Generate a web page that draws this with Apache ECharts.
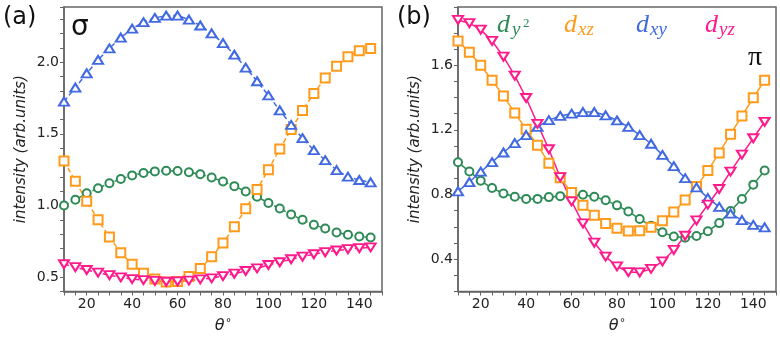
<!DOCTYPE html>
<html>
<head>
<meta charset="utf-8">
<script src="https://cdn.jsdelivr.net/npm/echarts@6/dist/echarts.min.js"></script>
<style>
  html, body { margin: 0; padding: 0; background: #fff; }
  #main { width: 780px; height: 339px; }
</style>
</head>
<body>
<div id="main"></div>
<script>
// angles (deg)
var theta = [10, 15, 20, 25, 30, 35, 40, 45, 50, 55, 60, 65, 70, 75, 80, 85, 90, 95, 100, 105, 110, 115, 120, 125, 130, 135, 140, 145];

// panel (a) sigma
var sigmaY2 = [1.00, 1.04, 1.085, 1.12, 1.155, 1.185, 1.21, 1.227, 1.238, 1.242, 1.241, 1.232, 1.218, 1.195, 1.168, 1.135, 1.098, 1.061, 1.018, 0.979, 0.938, 0.90, 0.865, 0.839, 0.812, 0.796, 0.784, 0.777];
var sigmaXZ = [1.31, 1.17, 1.03, 0.90, 0.78, 0.67, 0.59, 0.527, 0.487, 0.466, 0.47, 0.505, 0.56, 0.642, 0.738, 0.851, 0.977, 1.112, 1.25, 1.395, 1.53, 1.663, 1.782, 1.89, 1.972, 2.038, 2.08, 2.096];
var sigmaXY = [1.725, 1.823, 1.922, 2.016, 2.096, 2.172, 2.234, 2.279, 2.309, 2.325, 2.325, 2.297, 2.256, 2.201, 2.133, 2.052, 1.962, 1.867, 1.768, 1.664, 1.562, 1.47, 1.386, 1.316, 1.247, 1.201, 1.178, 1.162];
var sigmaYZ = [0.59, 0.57, 0.55, 0.532, 0.514, 0.499, 0.487, 0.48, 0.474, 0.468, 0.47, 0.476, 0.485, 0.492, 0.508, 0.524, 0.543, 0.562, 0.585, 0.604, 0.625, 0.643, 0.66, 0.674, 0.686, 0.695, 0.702, 0.708];

// panel (b) pi
var piY2 = [1.0, 0.942, 0.885, 0.84, 0.806, 0.786, 0.773, 0.773, 0.784, 0.79, 0.794, 0.798, 0.786, 0.764, 0.733, 0.695, 0.648, 0.606, 0.566, 0.54, 0.532, 0.543, 0.573, 0.623, 0.698, 0.772, 0.861, 0.948];
var piXZ = [1.75, 1.68, 1.60, 1.507, 1.41, 1.305, 1.203, 1.105, 0.994, 0.903, 0.812, 0.733, 0.672, 0.621, 0.591, 0.575, 0.576, 0.597, 0.638, 0.692, 0.766, 0.849, 0.948, 1.057, 1.173, 1.286, 1.398, 1.507];
var piXY = [0.82, 0.877, 0.941, 1.0, 1.06, 1.118, 1.168, 1.219, 1.26, 1.286, 1.30, 1.31, 1.31, 1.29, 1.258, 1.219, 1.168, 1.114, 1.045, 0.975, 0.901, 0.844, 0.778, 0.723, 0.682, 0.642, 0.612, 0.597];
var piYZ = [1.88, 1.86, 1.82, 1.75, 1.653, 1.535, 1.397, 1.237, 1.08, 0.907, 0.758, 0.621, 0.502, 0.416, 0.356, 0.32, 0.318, 0.34, 0.386, 0.457, 0.545, 0.64, 0.738, 0.834, 0.942, 1.047, 1.148, 1.25];

var GREEN = '#2e8b57', ORANGE = '#ff9a1a', BLUE = '#4169e1', PINK = '#ff1a8c';
var FRAME = '#666';

function pairs(ys) {
  return theta.map(function (t, i) { return [t, ys[i]]; });
}

function line(data, color, symbol, size, rot, dashed, idx) {
  return {
    type: 'line',
    xAxisIndex: idx, yAxisIndex: idx,
    data: pairs(data),
    symbol: symbol,
    symbolSize: size,
    symbolRotate: rot,
    showAllSymbol: true,
    animation: false,
    lineStyle: { color: color, width: 1.5, type: dashed ? [5, 3] : 'solid' },
    itemStyle: { color: color, borderColor: color, borderWidth: 1.2 }
  };
}

function xAx(idx) {
  return {
    type: 'value', gridIndex: idx, min: 10, max: 150, interval: 5,
    splitLine: { show: false },
    axisLine: { lineStyle: { color: FRAME, width: 1.5 } },
    axisTick: { length: 4, lineStyle: { color: FRAME } },
    axisLabel: {
      color: '#222', fontSize: 14, fontFamily: 'DejaVu Sans', margin: 6,
      formatter: function (v) { return v % 20 === 0 ? String(v) : ''; }
    },
    name: '{i|θ}{s|°}', nameLocation: 'middle', nameGap: 26,
    nameTextStyle: {
      rich: {
        i: { fontSize: 16, fontStyle: 'italic', fontFamily: 'DejaVu Sans', color: '#222' },
        s: { fontSize: 11, fontFamily: 'DejaVu Sans', color: '#222', padding: [0, 0, 6, 1] }
      }
    }
  };
}

function yAx(idx, min, max, every) {
  return {
    type: 'value', gridIndex: idx, min: min, max: max, interval: 0.1,
    splitLine: { show: false },
    axisLine: { show: true, lineStyle: { color: FRAME, width: 1.5 } },
    axisTick: { show: true, length: 4, lineStyle: { color: FRAME } },
    axisLabel: {
      color: '#222', fontSize: 14, fontFamily: 'DejaVu Sans', margin: 5,
      formatter: function (v) {
        var k = Math.round(v * 10);
        if (Math.abs(v * 10 - k) > 1e-6) return '';
        return k % every === 0 ? (k / 10).toFixed(1) : '';
      }
    },
    name: 'intensity (arb.units)', nameLocation: 'middle', nameGap: 35,
    nameTextStyle: { fontSize: 15, fontStyle: 'italic', fontFamily: 'DejaVu Sans', color: '#222' }
  };
}

function txt(x, y, s, size, color, family, style) {
  return {
    type: 'text', left: x, top: y,
    style: { text: s, fontSize: size, fill: color, fontFamily: family || 'DejaVu Sans', fontStyle: style || 'normal' }
  };
}

var serif = 'Liberation Serif';

var myechart = echarts.init(document.getElementById('main'));
myechart.setOption({
  backgroundColor: '#fff',
  animation: false,
  grid: [
    { left: 64, right: 398, top: 7, bottom: 43, show: true, borderColor: FRAME, borderWidth: 1.5 },
    { left: 458, right: 4, top: 7, bottom: 43, show: true, borderColor: FRAME, borderWidth: 1.5 }
  ],
  xAxis: [xAx(0), xAx(1)],
  yAxis: [yAx(0, 0.4, 2.385, 5), yAx(1, 0.2, 1.96, 4)],
  series: [
    line(sigmaY2, GREEN, 'emptyCircle', 8, 0, true, 0),
    line(sigmaXZ, ORANGE, 'emptyRect', 9, 0, true, 0),
    line(sigmaXY, BLUE, 'emptyTriangle', [10, 8], 0, true, 0),
    line(sigmaYZ, PINK, 'emptyTriangle', [10, 8], 180, true, 0),
    line(piY2, GREEN, 'emptyCircle', 8, 0, false, 1),
    line(piXZ, ORANGE, 'emptyRect', 9, 0, false, 1),
    line(piXY, BLUE, 'emptyTriangle', [10, 8], 0, false, 1),
    line(piYZ, PINK, 'emptyTriangle', [10, 8], 180, false, 1)
  ],
  graphic: [
    txt(3, 6, '(a)', 24, '#111'),
    txt(397, 6, '(b)', 24, '#111'),
    txt(71, 14, 'σ', 28, '#111'),
    txt(748, 44, 'π', 28, '#111', serif),
    // legend labels
    txt(497, 12, 'd', 26, GREEN, serif, 'italic'),
    txt(512, 20, 'y', 19, GREEN, serif, 'italic'),
    txt(523, 17, '2', 13, GREEN, serif),
    txt(564, 12, 'd', 26, ORANGE, serif, 'italic'),
    txt(578, 20, 'xz', 19, ORANGE, serif, 'italic'),
    txt(636, 12, 'd', 26, BLUE, serif, 'italic'),
    txt(650, 20, 'xy', 19, BLUE, serif, 'italic'),
    txt(705, 12, 'd', 26, PINK, serif, 'italic'),
    txt(719, 20, 'yz', 19, PINK, serif, 'italic')
  ]
});
</script>
</body>
</html>
